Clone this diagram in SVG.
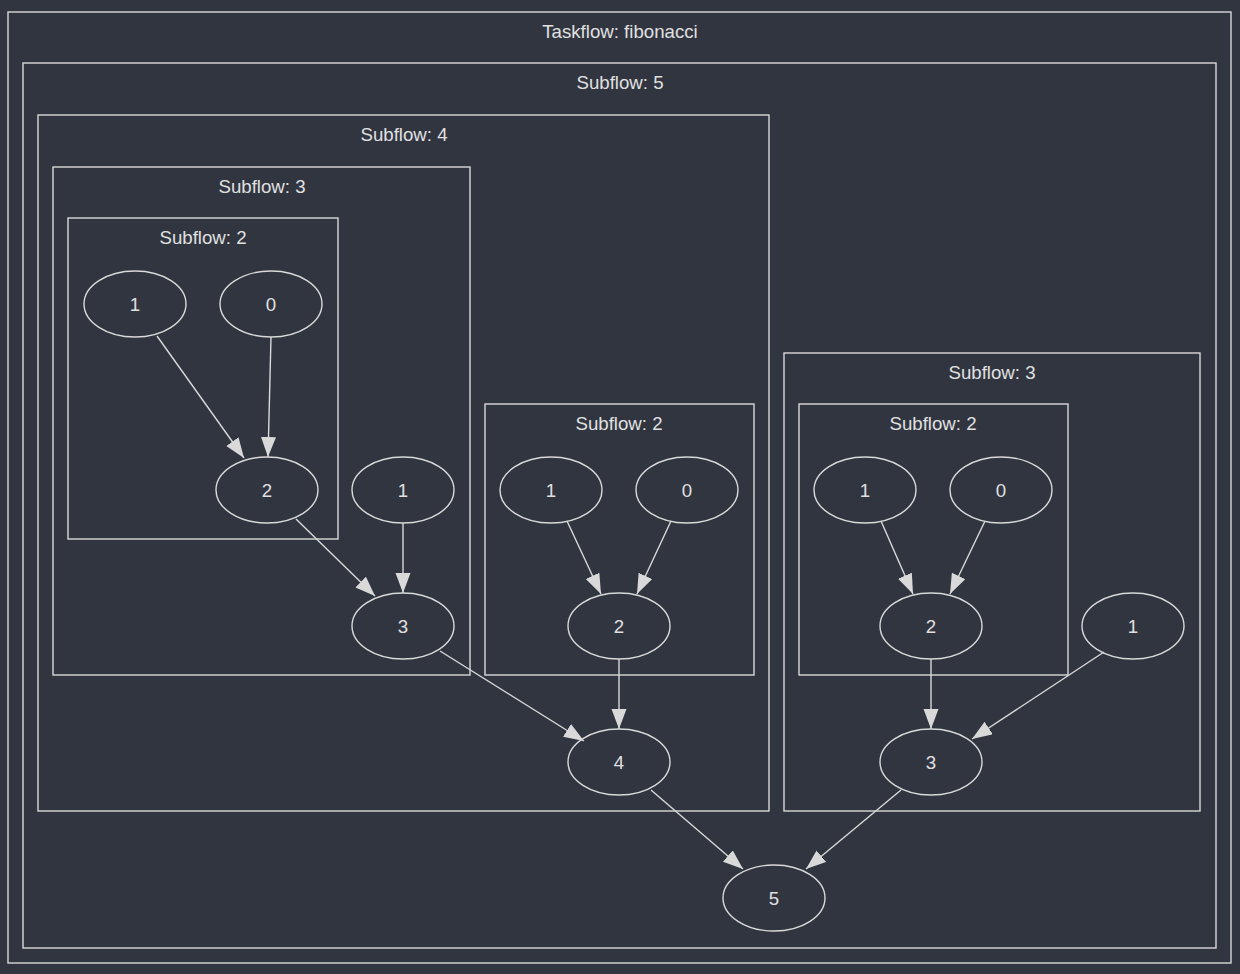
<svg xmlns="http://www.w3.org/2000/svg" width="1240" height="974" viewBox="0 0 1240 974">
<defs>
<style>
.bg{fill:#303540}
.cl{fill:none;stroke:#d9d9d9;stroke-width:1.4}
.nd{fill:none;stroke:#d9d9d9;stroke-width:1.4}
.t{font-family:"Liberation Sans",Arial,sans-serif;font-size:18.67px;fill:#e0e0e0;text-anchor:middle}
.e{fill:none;stroke:#d9d9d9;stroke-width:1.4;marker-end:url(#ah)}
</style>
<marker id="ah" markerUnits="userSpaceOnUse" markerWidth="21" markerHeight="16" refX="20" refY="7.5" orient="auto">
<path d="M0,0 L20,7.5 L0,15 z" fill="#d9d9d9"/>
</marker>
</defs>
<rect class="bg" x="0" y="0" width="1240" height="974"/>
<g id="clusters">
<g id="taskflow"><rect class="cl" x="8" y="12" width="1223" height="951"/><text class="t" x="620" y="38">Taskflow: fibonacci</text></g>
<g id="sub5"><rect class="cl" x="23" y="63" width="1193" height="885"/><text class="t" x="620" y="89">Subflow: 5</text></g>
<g id="sub4"><rect class="cl" x="38" y="115" width="731" height="696"/><text class="t" x="404" y="141">Subflow: 4</text></g>
<g id="sub3a"><rect class="cl" x="53" y="167" width="417" height="508"/><text class="t" x="262" y="193">Subflow: 3</text></g>
<g id="sub2a"><rect class="cl" x="68" y="218" width="270" height="321"/><text class="t" x="203" y="244">Subflow: 2</text></g>
<g id="sub2b"><rect class="cl" x="485" y="404" width="269" height="271"/><text class="t" x="619" y="430">Subflow: 2</text></g>
<g id="sub3b"><rect class="cl" x="784" y="353" width="416" height="458"/><text class="t" x="992" y="379">Subflow: 3</text></g>
<g id="sub2c"><rect class="cl" x="799" y="404" width="269" height="271"/><text class="t" x="933" y="430">Subflow: 2</text></g>
</g>
<g id="connectors">
<path class="e" d="M157,336 L244,458"/>
<path class="e" d="M271,337 L268,457"/>
<path class="e" d="M296,519 L375,596"/>
<path class="e" d="M403,523 L403,593"/>
<path class="e" d="M440,651 L584,741"/>
<path class="e" d="M567,521 L601,594"/>
<path class="e" d="M671,521 L637,594"/>
<path class="e" d="M619,659 L619,729"/>
<path class="e" d="M651,790 L743,869"/>
<path class="e" d="M881,521 L913,594"/>
<path class="e" d="M985,521 L950,594"/>
<path class="e" d="M931,659 L931,729"/>
<path class="e" d="M1104,652 L972,739"/>
<path class="e" d="M901,790 L806,869"/>
</g>
<g id="n_a1"><ellipse class="nd" cx="135" cy="304" rx="51" ry="33"/><text class="t" x="135" y="310.5">1</text></g>
<g id="n_a0"><ellipse class="nd" cx="271" cy="304" rx="51" ry="33"/><text class="t" x="271" y="310.5">0</text></g>
<g id="n_a2"><ellipse class="nd" cx="267" cy="490" rx="51" ry="33"/><text class="t" x="267" y="496.5">2</text></g>
<g id="n_b1"><ellipse class="nd" cx="403" cy="490" rx="51" ry="33"/><text class="t" x="403" y="496.5">1</text></g>
<g id="n_b3"><ellipse class="nd" cx="403" cy="626" rx="51" ry="33"/><text class="t" x="403" y="632.5">3</text></g>
<g id="n_c1"><ellipse class="nd" cx="551" cy="490" rx="51" ry="33"/><text class="t" x="551" y="496.5">1</text></g>
<g id="n_c0"><ellipse class="nd" cx="687" cy="490" rx="51" ry="33"/><text class="t" x="687" y="496.5">0</text></g>
<g id="n_c2"><ellipse class="nd" cx="619" cy="626" rx="51" ry="33"/><text class="t" x="619" y="632.5">2</text></g>
<g id="n_4"><ellipse class="nd" cx="619" cy="762" rx="51" ry="33"/><text class="t" x="619" y="768.5">4</text></g>
<g id="n_d1"><ellipse class="nd" cx="865" cy="490" rx="51" ry="33"/><text class="t" x="865" y="496.5">1</text></g>
<g id="n_d0"><ellipse class="nd" cx="1001" cy="490" rx="51" ry="33"/><text class="t" x="1001" y="496.5">0</text></g>
<g id="n_d2"><ellipse class="nd" cx="931" cy="626" rx="51" ry="33"/><text class="t" x="931" y="632.5">2</text></g>
<g id="n_e1"><ellipse class="nd" cx="1133" cy="626" rx="51" ry="33"/><text class="t" x="1133" y="632.5">1</text></g>
<g id="n_e3"><ellipse class="nd" cx="931" cy="762" rx="51" ry="33"/><text class="t" x="931" y="768.5">3</text></g>
<g id="n_5"><ellipse class="nd" cx="774" cy="898" rx="51" ry="33"/><text class="t" x="774" y="904.5">5</text></g>
</svg>
